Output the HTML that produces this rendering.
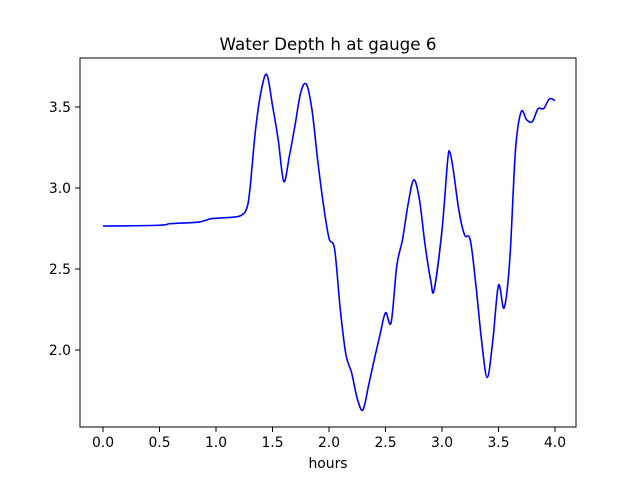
<!DOCTYPE html>
<html><head><meta charset="utf-8"><style>
body{margin:0;background:#fff}
svg{display:block;font-family:"DejaVu Sans","Liberation Sans",sans-serif}
</style></head><body>
<svg id="chart" width="640" height="480">
<rect width="640" height="480" fill="#fff"/>
<text x="328" y="50" font-size="16.7" text-anchor="middle">Water Depth h at gauge 6</text>
<g id="axes"></g>
<path id="line" fill="none" stroke="#0000ff" stroke-width="1.6"/>
<rect x="80" y="58" width="496" height="369" fill="none" stroke="#000" stroke-width="1"/>
<text x="328" y="468" font-size="13.9" text-anchor="middle">hours</text>
</svg>
<script>
const hours=[0,0.5,0.6,0.85,0.95,1.05,1.15,1.22,1.27,1.3,1.35,1.4,1.45,1.5,1.55,1.6,1.65,1.7,1.75,1.8,1.85,1.9,1.95,2.0,2.05,2.1,2.15,2.2,2.25,2.3,2.35,2.4,2.45,2.5,2.55,2.6,2.65,2.7,2.75,2.8,2.85,2.9,2.93,3.0,3.05,3.07,3.1,3.15,3.2,3.25,3.3,3.35,3.4,3.45,3.5,3.55,3.6,3.65,3.7,3.75,3.8,3.85,3.9,3.95,4.0];
const depth=[2.765,2.77,2.78,2.79,2.81,2.815,2.82,2.83,2.87,2.99,3.36,3.6,3.70,3.51,3.30,3.04,3.2,3.39,3.59,3.64,3.48,3.17,2.9,2.69,2.62,2.25,1.97,1.86,1.70,1.63,1.78,1.94,2.09,2.23,2.17,2.52,2.68,2.90,3.05,2.93,2.65,2.43,2.37,2.74,3.17,3.22,3.11,2.86,2.71,2.68,2.40,2.06,1.83,2.06,2.40,2.26,2.56,3.23,3.47,3.42,3.41,3.49,3.49,3.55,3.54];
const xTicks=[0,0.5,1,1.5,2,2.5,3,3.5,4];
const yTicks=[2.0,2.5,3.0,3.5];
const xS=v=>103+v*113;
const yS=v=>107-(v-3.5)*162;
const NS="http://www.w3.org/2000/svg";
const ax=document.getElementById('axes');
xTicks.forEach(t=>{
const l=document.createElementNS(NS,'line');


l.setAttribute('x1',xS(t));l.setAttribute('x2',xS(t));l.setAttribute('y1',427);l.setAttribute('y2',432);l.setAttribute('stroke','#000');
ax.appendChild(l);
const tx=document.createElementNS(NS,'text');


tx.setAttribute('x',xS(t));tx.setAttribute('y',447);tx.setAttribute('font-size','13.9');tx.setAttribute('text-anchor','middle');
tx.textContent=t.toFixed(1);ax.appendChild(tx);
});
yTicks.forEach(t=>{
const l=document.createElementNS(NS,'line');


l.setAttribute('x1',75);l.setAttribute('x2',80);l.setAttribute('y1',yS(t));l.setAttribute('y2',yS(t));l.setAttribute('stroke','#000');
ax.appendChild(l);
const tx=document.createElementNS(NS,'text');


tx.setAttribute('x',71);tx.setAttribute('y',yS(t)+5);tx.setAttribute('font-size','13.9');tx.setAttribute('text-anchor','end');
tx.textContent=t.toFixed(1);ax.appendChild(tx);
});
const P=hours.map((h,i)=>[xS(h),yS(depth[i])]);
let d='M'+P[0][0]+','+P[0][1];
for(let i=0;i<P.length-1;i++){
const p0=P[Math.max(i-1,0)],p1=P[i],p2=P[i+1],p3=P[Math.min(i+2,P.length-1)];
const c1=[p1[0]+(p2[0]-p0[0])/6,p1[1]+(p2[1]-p0[1])/6];
const c2=[p2[0]-(p3[0]-p1[0])/6,p2[1]-(p3[1]-p1[1])/6];
d+=' C'+c1+' '+c2+' '+p2;
}
document.getElementById('line').setAttribute('d',d);
</script>
</body></html>
